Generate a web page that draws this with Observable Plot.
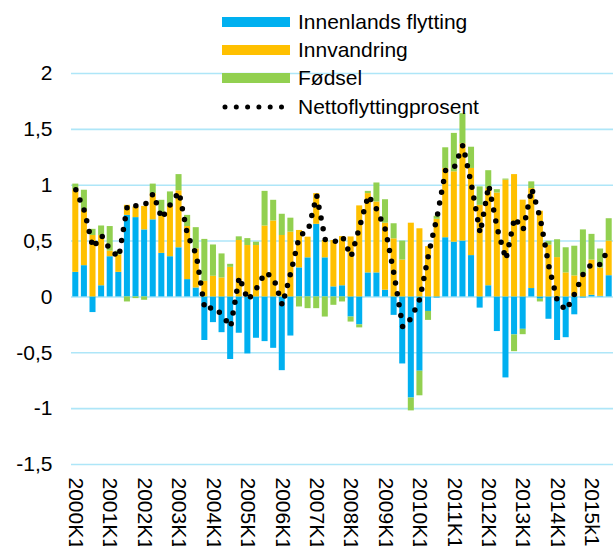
<!DOCTYPE html>
<html><head><meta charset="utf-8">
<script src="https://cdn.jsdelivr.net/npm/d3@7"></script>
<script src="https://cdn.jsdelivr.net/npm/@observablehq/plot@0.6"></script>
<style>
body{margin:0;background:#fff;}
#wrap{position:relative;width:614px;height:546px;overflow:hidden;font-family:"Liberation Sans",Arial,sans-serif;}
#legend{position:absolute;left:222px;top:8px;}
.row{display:flex;align-items:center;height:28.2px;font-size:21px;color:#000;white-space:nowrap;}
.sw{width:68px;height:10px;margin-right:8px;flex:none;}
</style></head><body>
<div id="wrap"><div id="chart"></div><div id="legend"></div></div>
<script>
const quarters = [
"2000K1","2000K2","2000K3","2000K4","2001K1","2001K2","2001K3","2001K4",
"2002K1","2002K2","2002K3","2002K4","2003K1","2003K2","2003K3","2003K4",
"2004K1","2004K2","2004K3","2004K4","2005K1","2005K2","2005K3","2005K4",
"2006K1","2006K2","2006K3","2006K4","2007K1","2007K2","2007K3","2007K4",
"2008K1","2008K2","2008K3","2008K4","2009K1","2009K2","2009K3","2009K4",
"2010K1","2010K2","2010K3","2010K4","2011K1","2011K2","2011K3","2011K4",
"2012K1","2012K2","2012K3","2012K4","2013K1","2013K2","2013K3","2013K4",
"2014K1","2014K2","2014K3","2014K4","2015K1","2015K2","2015K3"];

const innenlands = [0.22,0.28,-0.14,0.10,0.36,0.22,0.73,0.71,0.60,0.69,
0.39,0.36,0.44,0.155,0.08,-0.39,-0.23,-0.32,-0.56,-0.325,
-0.51,-0.37,-0.40,-0.46,-0.66,-0.35,0.26,0.35,0.65,0.35,
0.09,0.10,-0.18,-0.25,0.215,0.215,0.06,-0.165,-0.60,-0.905,
-0.665,-0.13,-0.01,0.53,0.49,0.50,0.37,-0.10,0.10,-0.31,
-0.725,-0.34,-0.29,0.075,-0.02,-0.20,-0.39,-0.365,-0.16,-0.01,
0.015,0.005,0.19];

const innvandring = [0.74,0.50,0.55,0.45,0.05,0.155,0.09,0.095,0.21,0.235,
0.33,0.45,0.51,0.475,0.35,0.14,0.185,0.17,0.265,0.505,
0.46,0.46,0.635,0.68,0.55,0.58,0.335,0.185,0.275,0.155,
0.415,0.44,0.537,0.815,0.71,0.635,0.60,0.52,0.33,0.66,
0.61,0.45,0.695,0.62,0.63,0.87,0.78,0.82,0.87,0.93,
1.045,1.095,0.866,0.895,0.767,0.463,0.352,0.215,0.188,0.20,
0.315,0.254,0.31];

const fodsel = [0.05,0.175,0.055,0.085,0.22,0.035,-0.045,-0.015,-0.03,0.085,
0.145,0.13,0.145,0.10,0.19,0.375,0.28,0.215,0.027,0.033,
0.062,0.03,0.31,0.185,0.19,0.125,-0.09,-0.105,-0.105,-0.18,
-0.075,-0.045,-0.045,-0.027,0.02,0.17,0.21,0.135,0.17,-0.115,
-0.22,-0.08,0.027,0.185,0.344,0.27,0.19,0.165,0.16,0.03,
0.01,-0.15,-0.048,0.06,-0.025,0.035,0.16,0.225,0.266,0.40,
0.23,0.17,0.2];

const netto = [0.96,0.77,0.44,0.55,0.42,0.355,0.82,0.815,0.82,0.925,
0.70,0.83,0.94,0.55,0.38,-0.115,-0.09,-0.16,-0.27,0.18,
-0.03,0.075,0.22,0.17,-0.075,0.22,0.55,0.59,0.91,0.51,
0.49,0.54,0.36,0.63,0.91,0.78,0.60,0.20,-0.27,-0.19,
-0.015,0.38,0.72,1.14,1.16,1.36,1.00,0.57,1.00,0.61,
0.335,0.71,0.60,0.97,0.70,0.27,-0.045,-0.12,0.03,0.21,
0.30,0.29,0.45];

const seriesNames = ["Innenlands flytting","Innvandring","Fødsel"];
const seriesColors = ["#00b0f0","#ffc000","#92d050"];
const lineName = "Nettoflyttingprosent";
const yTicks = [-1.5,-1,-0.5,0,0.5,1,1.5,2];
const xTickQuarters = ["2000K1","2001K1","2002K1","2003K1","2004K1","2005K1","2006K1","2007K1",
"2008K1","2009K1","2010K1","2011K1","2012K1","2013K1","2014K1","2015K1"];
const xTickLabels = ["2000K1","2001K1","2002K1","2003K1","2004K1","2005K1","2006K1","2007K1",
"2008K1","2009K1","2010K1","2011K1","2012K1","2013K1","2014K1","2015k1"];

const seriesValues = [innenlands, innvandring, fodsel];
const rows = [];
quarters.forEach((q, i) => {
  seriesNames.forEach((s, j) => rows.push({q, s, v: seriesValues[j][i]}));
});
const netRows = quarters.map((q, i) => ({q, v: netto[i]}));
const fmt = d => String(d).replace(".", ",");

const chart = Plot.plot({
  width: 614, height: 546,
  marginLeft: 71, marginRight: 1, marginTop: 73, marginBottom: 82,
  style: {fontFamily: "Liberation Sans, Arial, sans-serif", fontSize: "21px", color: "#000", background: "#fff"},
  x: {type: "band", domain: quarters, paddingInner: 0.3, paddingOuter: 0.15},
  y: {domain: [-1.5, 2]},
  color: {domain: seriesNames, range: seriesColors},
  marks: [
    Plot.gridY(yTicks, {stroke: "#aee6f8", strokeOpacity: 1, strokeWidth: 1.6}),
    Plot.barY(rows, Plot.stackY({x: "q", y: "v", fill: "s", z: "s", order: seriesNames})),
    Plot.line(netRows, {x: "q", y: "v", stroke: "#000", strokeWidth: 5.5, strokeDasharray: "0 11", strokeLinecap: "round"}),
    Plot.axisY(yTicks, {label: null, tickSize: 0, tickPadding: 19, tickFormat: fmt, fontSize: 21}),
    Plot.axisX(xTickQuarters, {label: null, tickSize: 0, tickPadding: 13, tickRotate: 90, fontSize: 21,
      tickFormat: d => xTickLabels[xTickQuarters.indexOf(d)]})
  ]
});
document.getElementById("chart").appendChild(chart);

const legend = document.getElementById("legend");
seriesNames.forEach((name, i) => {
  const row = document.createElement("div");
  row.className = "row";
  row.innerHTML = `<div class="sw" style="background:${seriesColors[i]}"></div><span>${name}</span>`;
  legend.appendChild(row);
});
const lrow = document.createElement("div");
lrow.className = "row";
lrow.innerHTML = `<svg class="sw" width="68" height="10"><line x1="3" x2="66" y1="5" y2="5" stroke="#000" stroke-width="5" stroke-linecap="round" stroke-dasharray="0 11.3"/></svg><span>${lineName}</span>`;
legend.appendChild(lrow);
</script>
</body></html>
